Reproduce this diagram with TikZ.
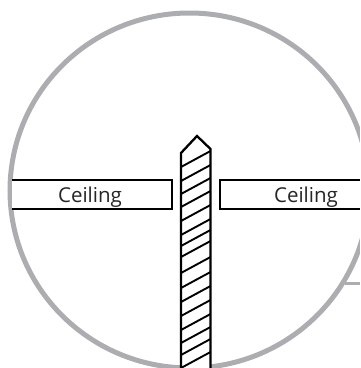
\documentclass[tikz,border=0pt]{standalone}
\usepackage{fontspec}
\setmainfont{Open Sans}
\begin{document}
\begin{tikzpicture}[x=1pt,y=-1pt,
 ring/.style={draw=ringgray,line width=5pt},
 ceil/.style={draw=black,line width=2pt,fill=white},
 shaft/.style={draw=black,line width=2.3pt},
 hatch/.style={draw=black,line width=1.9pt},
 lab/.style={font=\fontsize{20.5}{24}\selectfont,text=black!85,anchor=base,inner sep=0pt}]
\definecolor{ringgray}{RGB}{172,173,177}
\useasboundingbox (0,0) rectangle (360,368);
\clip (0,0) rectangle (360,368);
\draw[ring] (189.5,190.5) ellipse (179.5 and 177.5);
\draw[ring,line width=3pt] (345,283) -- (362,283);
\draw[ceil] (12,180) -- (172,180) -- (172,209) -- (12,209);
\draw[ceil] (362,180) -- (220,180) -- (220,209) -- (362,209);
\node[lab] (a) at (90,202) {Ceiling};
\node[lab] (b) at (306,202) {Ceiling};
\fill[white] (181,370) -- (181,153) -- (197,136) -- (210.5,149) -- (210.5,370) -- cycle;
\foreach \y in {167,181,194,207,221,235,246,257,273,288,302,316,330,343,355,368}{
 \draw[hatch] (181,\y) -- (210.5,\y-16);}
\draw[shaft] (181,370) -- (181,153) -- (197,136) -- (210.5,149) -- (210.5,370);
\end{tikzpicture}
\end{document}
